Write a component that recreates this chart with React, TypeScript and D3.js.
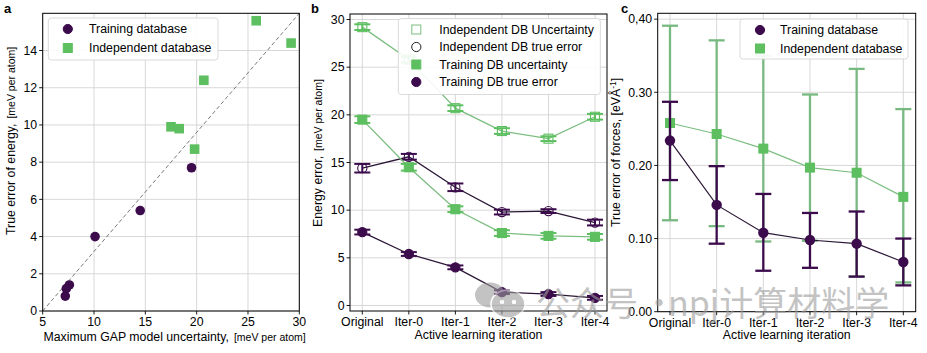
import React from "react";
import * as d3 from "d3";

// iterations of the active learning loop
const iterations = ["Original", "Iter-0", "Iter-1", "Iter-2", "Iter-3", "Iter-4"];

// panel b (and a): energies in meV per atom
const trainUnc = [19.5, 14.5, 10.1, 7.6, 7.3, 7.2];
const trainUncErr = [0.35, 0.35, 0.3, 0.3, 0.3, 0.3];
const trainErr = [7.7, 5.4, 4.0, 1.4, 1.2, 0.8];
const trainErrErr = [0.25, 0.2, 0.2, 0.2, 0.2, 0.2];
const indepUnc = [29.2, 25.8, 20.7, 18.3, 17.5, 19.8];
const indepUncErr = [0.3, 0.3, 0.3, 0.3, 0.25, 0.3];
const indepErr = [14.4, 15.6, 12.4, 9.8, 9.9, 8.7];
const indepErrErr = [0.45, 0.3, 0.4, 0.25, 0.2, 0.3];

// panel c: force errors in eV/Å, with lower / upper bar ends
const forceTrain = [0.234, 0.146, 0.108, 0.098, 0.093, 0.068];
const forceTrainLo = [0.18, 0.093, 0.056, 0.06, 0.048, 0.036];
const forceTrainHi = [0.287, 0.199, 0.161, 0.135, 0.137, 0.1];
const forceIndep = [0.258, 0.243, 0.223, 0.197, 0.19, 0.157];
const forceIndepLo = [0.125, 0.117, 0.096, 0.097, 0.048, 0.04];
const forceIndepHi = [0.391, 0.371, 0.35, 0.297, 0.332, 0.277];

const aXTicks = [5, 10, 15, 20, 25, 30];
const aYTicks = [0, 2, 4, 6, 8, 10, 12, 14];
const bYTicks = [0, 5, 10, 15, 20, 25, 30];
const cYTicks = [0, 0.1, 0.2, 0.3, 0.4];
const cYLabels = ["0.00", "0.10", "0.20", "0.30", "0,40"];

const FONT = "'Liberation Sans', Arial, Helvetica, sans-serif";
const PURPLE = "#3b0b4c";
const GREEN = "#5dbf60";
const GREEN_LINE = "#7cbd80";
const GREEN_BAR = "#78b981";
const PURPLE_LINE = "#2a1636";
const GRID = "#d4d4d4";

// frame, grid and ticks; xs are pixel positions of the x ticks
function Frame({ xRange, y, xs, yTicks, xLabels, yLabels }) {
  const [x0, x1] = xRange;
  const [y0, y1] = y.range();
  return (
    <g fontFamily={FONT} fontSize={12.3}>
      {xs.map((px, i) => (
        <line key={"gx" + i} x1={px} x2={px} y1={y0} y2={y1} stroke={GRID} strokeWidth={0.9} />
      ))}
      {yTicks.map((t, i) => (
        <line key={"gy" + i} x1={x0} x2={x1} y1={y(t)} y2={y(t)} stroke={GRID} strokeWidth={0.9} />
      ))}
      {xs.map((px, i) => (
        <g key={"tx" + i}>
          <line x1={px} x2={px} y1={y0} y2={y0 + 3.5} stroke="#000" strokeWidth={0.9} />
          <text x={px} y={y0 + 15} textAnchor="middle">{xLabels[i]}</text>
        </g>
      ))}
      {yTicks.map((t, i) => (
        <g key={"ty" + i}>
          <line x1={x0 - 3.5} x2={x0} y1={y(t)} y2={y(t)} stroke="#000" strokeWidth={0.9} />
          <text x={x0 - 5.5} y={y(t) + 4.3} textAnchor="end">{yLabels[i]}</text>
        </g>
      ))}
    </g>
  );
}

function Spine({ xRange, y }) {
  const [x0, x1] = xRange;
  const [y0, y1] = y.range();
  return <rect x={x0} y={y1} width={x1 - x0} height={y0 - y1} fill="none" stroke="#000" strokeWidth={1} />;
}

function ErrorBar({ px, yLo, yHi, color, cap, width }) {
  return (
    <g stroke={color} strokeWidth={width}>
      <line x1={px} x2={px} y1={yLo} y2={yHi} />
      <line x1={px - cap / 2} x2={px + cap / 2} y1={yLo} y2={yLo} />
      <line x1={px - cap / 2} x2={px + cap / 2} y1={yHi} y2={yHi} />
    </g>
  );
}

function Legend({ x, y, w, h, items, rowGap, markerDx, textDx }) {
  return (
    <g fontFamily={FONT} fontSize={12.3}>
      <rect x={x} y={y} width={w} height={h} rx={3} fill="#fff" fillOpacity={0.9} stroke="#d6d6d6" strokeWidth={0.9} />
      {items.map((it, i) => {
        const cy = y + 11 + i * rowGap;
        const mx = x + markerDx;
        return (
          <g key={i}>
            {it.shape === "circle" ? (
              <circle cx={mx} cy={cy} r={4.6} fill={it.fill} stroke={it.stroke} strokeWidth={1} />
            ) : (
              <rect x={mx - 4.5} y={cy - 4.5} width={9} height={9} fill={it.fill} stroke={it.stroke} strokeWidth={1} />
            )}
            <text x={x + textDx} y={cy + 4.3}>{it.label}</text>
          </g>
        );
      })}
    </g>
  );
}

function PanelA() {
  const x = d3.scaleLinear().domain([5, 30]).range([42.7, 299.3]);
  const y = d3.scaleLinear().domain([0, 16]).range([311, 13.3]);
  return (
    <g>
      <Frame xRange={x.range()} y={y} xs={aXTicks.map((t) => x(t))} yTicks={aYTicks} xLabels={aXTicks} yLabels={aYTicks} />
      <line x1={x(5)} y1={y(0)} x2={x(30)} y2={y(16)} stroke="#7a7a7a" strokeWidth={1} strokeDasharray="4,2.5" />
      {trainUnc.map((u, i) => (
        <circle key={"t" + i} cx={x(u)} cy={y(trainErr[i])} r={4.8} fill={PURPLE} />
      ))}
      {indepUnc.map((u, i) => (
        <rect key={"i" + i} x={x(u) - 4.8} y={y(indepErr[i]) - 4.8} width={9.6} height={9.6} fill={GREEN} />
      ))}
      <Spine xRange={x.range()} y={y} />
      <Legend
        x={48.3} y={18} w={169.7} h={42} rowGap={19} markerDx={19.5} textDx={40.7}
        items={[
          { shape: "circle", fill: PURPLE, stroke: PURPLE, label: "Training database" },
          { shape: "square", fill: GREEN, stroke: GREEN, label: "Independent database" },
        ]}
      />
      <text x={43.5} y={341} fontFamily={FONT} fontSize={12.3}>
        Maximum GAP model uncertainty,<tspan dx={5} fontSize={10.5}>[meV per atom]</tspan>
      </text>
      <text transform="translate(15,235) rotate(-90)" fontFamily={FONT} fontSize={12.3}>
        True error of energy,<tspan dx={5} fontSize={10.5}>[meV per atom]</tspan>
      </text>
    </g>
  );
}

function PanelB() {
  const x = d3.scalePoint().domain(iterations).range([362.3, 595]);
  const xRange = [350, 607];
  const y = d3.scaleLinear().domain([-0.58, 30.58]).range([311, 14]);
  const line = d3.line().x((_, i) => x(iterations[i])).y((v) => y(v));
  const series = [
    { v: indepUnc, e: indepUncErr, color: GREEN_LINE, bar: GREEN, shape: "square", fill: "none" },
    { v: indepErr, e: indepErrErr, color: PURPLE_LINE, bar: PURPLE, shape: "circle", fill: "none" },
    { v: trainUnc, e: trainUncErr, color: GREEN_LINE, bar: GREEN, shape: "square", fill: GREEN },
    { v: trainErr, e: trainErrErr, color: PURPLE_LINE, bar: PURPLE, shape: "circle", fill: PURPLE },
  ];
  return (
    <g>
      <Frame xRange={xRange} y={y} xs={iterations.map((it) => x(it))} yTicks={bYTicks} xLabels={iterations} yLabels={bYTicks} />
      {series.map((s, k) => (
        <g key={k}>
          <path d={line(s.v)} fill="none" stroke={s.color} strokeWidth={1.3} />
          {s.v.map((v, i) => {
            const px = x(iterations[i]);
            return (
              <g key={i}>
                <ErrorBar px={px} yLo={y(v - s.e[i])} yHi={y(v + s.e[i])} color={s.bar} cap={16} width={2} />
                {s.shape === "square" ? (
                  <rect x={px - 4.5} y={y(v) - 4.5} width={9} height={9} fill={s.fill} stroke={s.bar} strokeWidth={1.1} />
                ) : (
                  <circle cx={px} cy={y(v)} r={4.6} fill={s.fill} stroke={s.bar} strokeWidth={1.1} />
                )}
              </g>
            );
          })}
        </g>
      ))}
      <Spine xRange={xRange} y={y} />
      <Legend
        x={398.3} y={18.5} w={202} h={76} rowGap={17.5} markerDx={18} textDx={41}
        items={[
          { shape: "square", fill: "#fff", stroke: GREEN_LINE, label: "Independent DB Uncertainty" },
          { shape: "circle", fill: "#fff", stroke: "#222", label: "Independent DB true error" },
          { shape: "square", fill: GREEN, stroke: GREEN, label: "Training DB uncertainty" },
          { shape: "circle", fill: PURPLE, stroke: PURPLE, label: "Training DB true error" },
        ]}
      />
      <text x={478.5} y={339} textAnchor="middle" fontFamily={FONT} fontSize={12.3}>
        Active learning iteration
      </text>
      <text transform="translate(322,227) rotate(-90)" fontFamily={FONT} fontSize={12.3}>
        Energy error,<tspan dx={5} fontSize={10.5}>[meV per atom]</tspan>
      </text>
    </g>
  );
}

function PanelC() {
  const x = d3.scalePoint().domain(iterations).range([670, 903.3]);
  const xRange = [657.7, 915.7];
  const y = d3.scaleLinear().domain([0, 0.408]).range([311.7, 13.3]);
  const line = d3.line().x((_, i) => x(iterations[i])).y((v) => y(v));
  return (
    <g>
      <Frame xRange={xRange} y={y} xs={iterations.map((it) => x(it))} yTicks={cYTicks} xLabels={iterations} yLabels={cYLabels} />
      {forceIndep.map((v, i) => (
        <ErrorBar key={"ib" + i} px={x(iterations[i])} yLo={y(forceIndepLo[i])} yHi={y(forceIndepHi[i])} color={GREEN_BAR} cap={16} width={2.3} />
      ))}
      <path d={line(forceIndep)} fill="none" stroke={GREEN_LINE} strokeWidth={1.2} />
      {forceIndep.map((v, i) => (
        <rect key={"is" + i} x={x(iterations[i]) - 5} y={y(v) - 5} width={10} height={10} fill={GREEN} />
      ))}
      {forceTrain.map((v, i) => (
        <ErrorBar key={"tb" + i} px={x(iterations[i])} yLo={y(forceTrainLo[i])} yHi={y(forceTrainHi[i])} color={PURPLE} cap={16} width={2.3} />
      ))}
      <path d={line(forceTrain)} fill="none" stroke={PURPLE_LINE} strokeWidth={1.2} />
      {forceTrain.map((v, i) => (
        <circle key={"tc" + i} cx={x(iterations[i])} cy={y(v)} r={5.2} fill={PURPLE} />
      ))}
      <Spine xRange={xRange} y={y} />
      <Legend
        x={740} y={19} w={168} h={40} rowGap={18.5} markerDx={20} textDx={40}
        items={[
          { shape: "circle", fill: PURPLE, stroke: PURPLE, label: "Training database" },
          { shape: "square", fill: GREEN, stroke: GREEN, label: "Independent database" },
        ]}
      />
      <text x={786.7} y={339} textAnchor="middle" fontFamily={FONT} fontSize={12.3}>
        Active learning iteration
      </text>
      <text transform="translate(620,227) rotate(-90)" fontFamily={FONT} fontSize={12.3}>
        True error of forces, [eVÅ<tspan dy={-4} fontSize={8.5}>-1</tspan><tspan dy={4}>]</tspan>
      </text>
    </g>
  );
}

// the "公众号" stamp over panels b and c
function Watermark() {
  const cjk = "'Noto Sans CJK SC', sans-serif";
  return (
    <g opacity={0.6} fill="#9c9c9c">
      <ellipse cx={490} cy={295} rx={15} ry={12.5} />
      <ellipse cx={508} cy={304} rx={17} ry={14} stroke="#fff" strokeWidth={1.6} />
      <circle cx={502} cy={302} r={2.2} fill="#fff" />
      <circle cx={514} cy={302} r={2.2} fill="#fff" />
      <text y={316} fontFamily={cjk} fontSize={34}>
        <tspan x={536}>公众号</tspan>
        <tspan x={642}>·</tspan>
        <tspan x={668}>npj计算材料学</tspan>
      </text>
    </g>
  );
}

export default function App() {
  return (
    <svg width={927} height={353} style={{ position: "absolute", left: 0, top: 0, background: "#fff" }}>
      <rect width={927} height={353} fill="#fff" />
      <PanelA />
      <PanelB />
      <PanelC />
      <g fontFamily={FONT} fontWeight="bold" fontSize={13}>
        <text x={4} y={13}>a</text>
        <text x={311} y={13}>b</text>
        <text x={621} y={13}>c</text>
      </g>
      <Watermark />
    </svg>
  );
}
